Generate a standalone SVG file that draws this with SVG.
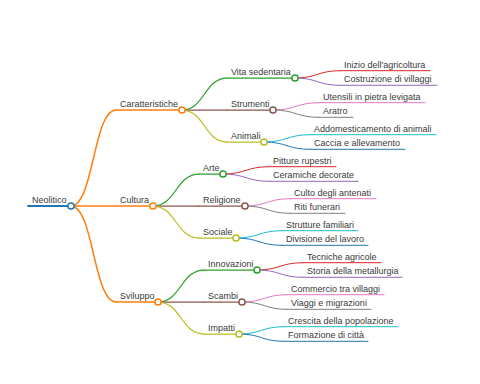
<svg xmlns="http://www.w3.org/2000/svg" width="480" height="384" viewBox="0 0 480 384">
<style>
text{font-family:"Liberation Sans",Arial,sans-serif;font-size:9px;fill:#3a3a3a}
path,line{fill:none;stroke-linecap:round}
circle{fill:#fff;stroke-width:1.5}
.w0{stroke-width:2}.w1{stroke-width:1.5}.w2{stroke-width:1.25}.w3{stroke-width:1}
.blue{stroke:#1f77b4}.orange{stroke:#ff7f0e}.green{stroke:#2ca02c}.red{stroke:#d62728}.purple{stroke:#9467bd}.brown{stroke:#8c564b}.pink{stroke:#e377c2}.gray{stroke:#7f7f7f}.olive{stroke:#bcbd22}.cyan{stroke:#17becf}
</style>
<rect width="480" height="384" fill="#fff"/>
<g id="connectors">
<path class="orange w1" d="M71,206C93.5,206 93.5,110 116,110"/>
<path class="orange w1" d="M71,206C93.5,206 93.5,206 116,206"/>
<path class="orange w1" d="M71,206C93.5,206 93.5,302 116,302"/>
<path class="green w2" d="M182,110C204.5,110 204.5,78 227,78"/>
<path class="brown w2" d="M182,110C204.5,110 204.5,110 227,110"/>
<path class="olive w2" d="M182,110C204.5,110 204.5,142 227,142"/>
<path class="green w2" d="M153,206C176,206 176,174 199,174"/>
<path class="brown w2" d="M153,206C176,206 176,206 199,206"/>
<path class="olive w2" d="M153,206C176,206 176,238 199,238"/>
<path class="green w2" d="M158,302C181,302 181,270 204,270"/>
<path class="brown w2" d="M158,302C181,302 181,302 204,302"/>
<path class="olive w2" d="M158,302C181,302 181,334 204,334"/>
<path class="red w3" d="M295,78C317.5,78 317.5,70.7 340,70.7"/>
<path class="purple w3" d="M295,78C317.5,78 317.5,85.3 340,85.3"/>
<path class="pink w3" d="M273,110C296,110 296,102.7 319,102.7"/>
<path class="gray w3" d="M273,110C296,110 296,117.3 319,117.3"/>
<path class="cyan w3" d="M264,142C287,142 287,134.7 310,134.7"/>
<path class="blue w3" d="M264,142C287,142 287,149.3 310,149.3"/>
<path class="red w3" d="M223,174C246,174 246,166.7 269,166.7"/>
<path class="purple w3" d="M223,174C246,174 246,181.3 269,181.3"/>
<path class="pink w3" d="M245,206C267.5,206 267.5,198.7 290,198.7"/>
<path class="gray w3" d="M245,206C267.5,206 267.5,213.3 290,213.3"/>
<path class="cyan w3" d="M236,238C259,238 259,230.7 282,230.7"/>
<path class="blue w3" d="M236,238C259,238 259,245.3 282,245.3"/>
<path class="red w3" d="M257,270C280,270 280,262.7 303,262.7"/>
<path class="purple w3" d="M257,270C280,270 280,277.3 303,277.3"/>
<path class="pink w3" d="M242,302C264.5,302 264.5,294.7 287,294.7"/>
<path class="gray w3" d="M242,302C264.5,302 264.5,309.3 287,309.3"/>
<path class="cyan w3" d="M239,334C261.5,334 261.5,326.7 284,326.7"/>
<path class="blue w3" d="M239,334C261.5,334 261.5,341.3 284,341.3"/>
</g>
<g id="n-neolitico"><line class="blue w0" x1="28" y1="206" x2="71" y2="206"/><circle class="blue" cx="71" cy="206" r="3.1"/><text x="32" y="203">Neolitico</text></g>
<g id="n-caratteristiche"><line class="orange w1" x1="116" y1="110" x2="182" y2="110"/><circle class="orange" cx="182" cy="110" r="3.1"/><text x="120" y="107">Caratteristiche</text></g>
<g id="n-cultura"><line class="orange w1" x1="116" y1="206" x2="153" y2="206"/><circle class="orange" cx="153" cy="206" r="3.1"/><text x="120" y="203">Cultura</text></g>
<g id="n-sviluppo"><line class="orange w1" x1="116" y1="302" x2="158" y2="302"/><circle class="orange" cx="158" cy="302" r="3.1"/><text x="120" y="299">Sviluppo</text></g>
<g id="n-vita"><line class="green w2" x1="227" y1="78" x2="295" y2="78"/><circle class="green" cx="295" cy="78" r="3.1"/><text x="231" y="75">Vita sedentaria</text></g>
<g id="n-strumenti"><line class="brown w2" x1="227" y1="110" x2="273" y2="110"/><circle class="brown" cx="273" cy="110" r="3.1"/><text x="231" y="107">Strumenti</text></g>
<g id="n-animali"><line class="olive w2" x1="227" y1="142" x2="264" y2="142"/><circle class="olive" cx="264" cy="142" r="3.1"/><text x="231" y="139">Animali</text></g>
<g id="n-arte"><line class="green w2" x1="199" y1="174" x2="223" y2="174"/><circle class="green" cx="223" cy="174" r="3.1"/><text x="203" y="171">Arte</text></g>
<g id="n-religione"><line class="brown w2" x1="199" y1="206" x2="245" y2="206"/><circle class="brown" cx="245" cy="206" r="3.1"/><text x="203" y="203">Religione</text></g>
<g id="n-sociale"><line class="olive w2" x1="199" y1="238" x2="236" y2="238"/><circle class="olive" cx="236" cy="238" r="3.1"/><text x="203" y="235">Sociale</text></g>
<g id="n-innovazioni"><line class="green w2" x1="204" y1="270" x2="257" y2="270"/><circle class="green" cx="257" cy="270" r="3.1"/><text x="208" y="267">Innovazioni</text></g>
<g id="n-scambi"><line class="brown w2" x1="204" y1="302" x2="242" y2="302"/><circle class="brown" cx="242" cy="302" r="3.1"/><text x="208" y="299">Scambi</text></g>
<g id="n-impatti"><line class="olive w2" x1="204" y1="334" x2="239" y2="334"/><circle class="olive" cx="239" cy="334" r="3.1"/><text x="208" y="331">Impatti</text></g>
<g id="n-inizio"><line class="red w3" x1="340" y1="70.7" x2="430" y2="70.7"/><text x="344" y="67.7">Inizio dell'agricoltura</text></g>
<g id="n-costruzione"><line class="purple w3" x1="340" y1="85.3" x2="437" y2="85.3"/><text x="344" y="82.3">Costruzione di villaggi</text></g>
<g id="n-utensili"><line class="pink w3" x1="319" y1="102.7" x2="425" y2="102.7"/><text x="323" y="99.7">Utensili in pietra levigata</text></g>
<g id="n-aratro"><line class="gray w3" x1="319" y1="117.3" x2="353" y2="117.3"/><text x="323" y="114.3">Aratro</text></g>
<g id="n-addomesticamento"><line class="cyan w3" x1="310" y1="134.7" x2="436" y2="134.7"/><text x="314" y="131.7">Addomesticamento di animali</text></g>
<g id="n-caccia"><line class="blue w3" x1="310" y1="149.3" x2="405" y2="149.3"/><text x="314" y="146.3">Caccia e allevamento</text></g>
<g id="n-pitture"><line class="red w3" x1="269" y1="166.7" x2="336" y2="166.7"/><text x="273" y="163.7">Pitture rupestri</text></g>
<g id="n-ceramiche"><line class="purple w3" x1="269" y1="181.3" x2="358" y2="181.3"/><text x="273" y="178.3">Ceramiche decorate</text></g>
<g id="n-culto"><line class="pink w3" x1="290" y1="198.7" x2="376" y2="198.7"/><text x="294" y="195.7">Culto degli antenati</text></g>
<g id="n-riti"><line class="gray w3" x1="290" y1="213.3" x2="345" y2="213.3"/><text x="294" y="210.3">Riti funerari</text></g>
<g id="n-strutture"><line class="cyan w3" x1="282" y1="230.7" x2="358" y2="230.7"/><text x="286" y="227.7">Strutture familiari</text></g>
<g id="n-divisione"><line class="blue w3" x1="282" y1="245.3" x2="368" y2="245.3"/><text x="286" y="242.3">Divisione del lavoro</text></g>
<g id="n-tecniche"><line class="red w3" x1="303" y1="262.7" x2="381" y2="262.7"/><text x="307" y="259.7">Tecniche agricole</text></g>
<g id="n-storia"><line class="purple w3" x1="303" y1="277.3" x2="402" y2="277.3"/><text x="307" y="274.3">Storia della metallurgia</text></g>
<g id="n-commercio"><line class="pink w3" x1="287" y1="294.7" x2="384" y2="294.7"/><text x="291" y="291.7">Commercio tra villaggi</text></g>
<g id="n-viaggi"><line class="gray w3" x1="287" y1="309.3" x2="371" y2="309.3"/><text x="291" y="306.3">Viaggi e migrazioni</text></g>
<g id="n-crescita"><line class="cyan w3" x1="284" y1="326.7" x2="398" y2="326.7"/><text x="288" y="323.7">Crescita della popolazione</text></g>
<g id="n-formazione"><line class="blue w3" x1="284" y1="341.3" x2="368" y2="341.3"/><text x="288" y="338.3">Formazione di città</text></g>
</svg>
